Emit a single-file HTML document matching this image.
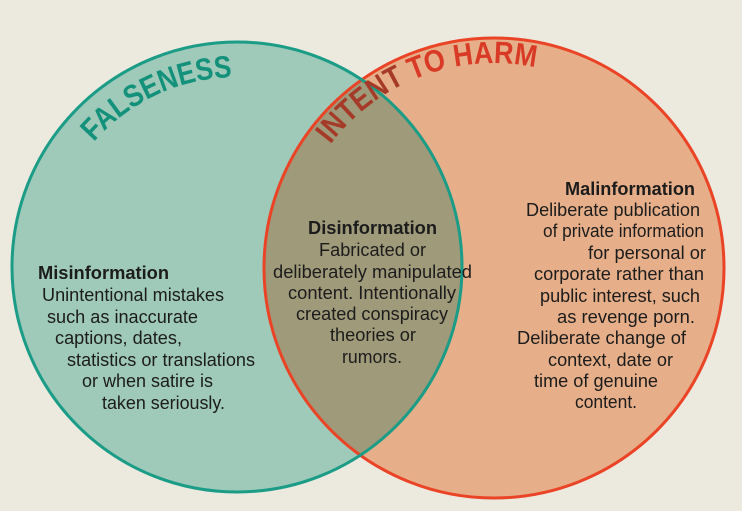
<!DOCTYPE html>
<html><head><meta charset="utf-8"><style>
html,body{margin:0;padding:0;background:#ECE9DF;}
svg{display:block;}
text{font-family:"Liberation Sans",Arial,sans-serif;fill:#1c1c1c;font-size:18px;}
.b{font-weight:bold;}
</style></head><body>
<svg width="742" height="511" viewBox="0 0 742 511" xmlns="http://www.w3.org/2000/svg">
<defs>
<clipPath id="cl"><circle cx="237" cy="267" r="225"/></clipPath>
<path id="pa" d="M58.5,202 A190,190 0 0 1 415.5,202"/>
<path id="pb" d="M301.4,197.9 A205,205 0 0 1 686.6,197.9"/>
</defs>
<rect width="742" height="511" fill="#ECE9DF"/>
<circle cx="237" cy="267" r="225" fill="#9FC9B9"/>
<circle cx="494" cy="268" r="230" fill="#E6AF89"/>
<circle cx="494" cy="268" r="230" fill="#9F9A7A" clip-path="url(#cl)"/>
<circle cx="494" cy="268" r="230" fill="none" stroke="#EA4326" stroke-width="3"/>
<circle cx="237" cy="267" r="225" fill="none" stroke="#1A9C86" stroke-width="3"/>
<text style="font-size:31px;font-weight:bold;fill:#13917A"><textPath href="#pa" startOffset="70" textLength="157" lengthAdjust="spacingAndGlyphs">FALSENESS</textPath></text>
<text style="font-size:31px;font-weight:bold;fill:#D93A26"><textPath href="#pb" startOffset="61" textLength="231" lengthAdjust="spacingAndGlyphs"><tspan style="fill:#A63A28">INTENT</tspan> TO HARM</textPath></text>

<text class="b" x="38" y="279" textLength="131" lengthAdjust="spacingAndGlyphs">Misinformation</text>
<text x="42" y="301" textLength="182" lengthAdjust="spacingAndGlyphs">Unintentional mistakes</text>
<text x="47" y="323" textLength="151" lengthAdjust="spacingAndGlyphs">such as inaccurate</text>
<text x="55" y="344" textLength="127" lengthAdjust="spacingAndGlyphs">captions, dates,</text>
<text x="67" y="366" textLength="188" lengthAdjust="spacingAndGlyphs">statistics or translations</text>
<text x="82" y="387" textLength="131" lengthAdjust="spacingAndGlyphs">or when satire is</text>
<text x="102" y="409" textLength="123" lengthAdjust="spacingAndGlyphs">taken seriously.</text>

<text class="b" x="308" y="234" textLength="129" lengthAdjust="spacingAndGlyphs">Disinformation</text>
<text x="319" y="256" textLength="107" lengthAdjust="spacingAndGlyphs">Fabricated or</text>
<text x="273" y="278" textLength="199" lengthAdjust="spacingAndGlyphs">deliberately manipulated</text>
<text x="288" y="299" textLength="168" lengthAdjust="spacingAndGlyphs">content. Intentionally</text>
<text x="296" y="320" textLength="152" lengthAdjust="spacingAndGlyphs">created conspiracy</text>
<text x="330" y="341" textLength="86" lengthAdjust="spacingAndGlyphs">theories or</text>
<text x="342" y="363" textLength="60" lengthAdjust="spacingAndGlyphs">rumors.</text>

<text class="b" x="565" y="195" textLength="130" lengthAdjust="spacingAndGlyphs">Malinformation</text>
<text x="526" y="216" textLength="174" lengthAdjust="spacingAndGlyphs">Deliberate publication</text>
<text x="543" y="237" textLength="161" lengthAdjust="spacingAndGlyphs">of private information</text>
<text x="588" y="259" textLength="118" lengthAdjust="spacingAndGlyphs">for personal or</text>
<text x="534" y="280" textLength="170" lengthAdjust="spacingAndGlyphs">corporate rather than</text>
<text x="540" y="302" textLength="160" lengthAdjust="spacingAndGlyphs">public interest, such</text>
<text x="557" y="323" textLength="138" lengthAdjust="spacingAndGlyphs">as revenge porn.</text>
<text x="517" y="344" textLength="169" lengthAdjust="spacingAndGlyphs">Deliberate change of</text>
<text x="548" y="366" textLength="125" lengthAdjust="spacingAndGlyphs">context, date or</text>
<text x="534" y="387" textLength="124" lengthAdjust="spacingAndGlyphs">time of genuine</text>
<text x="575" y="408" textLength="62" lengthAdjust="spacingAndGlyphs">content.</text>
</svg>
</body></html>
